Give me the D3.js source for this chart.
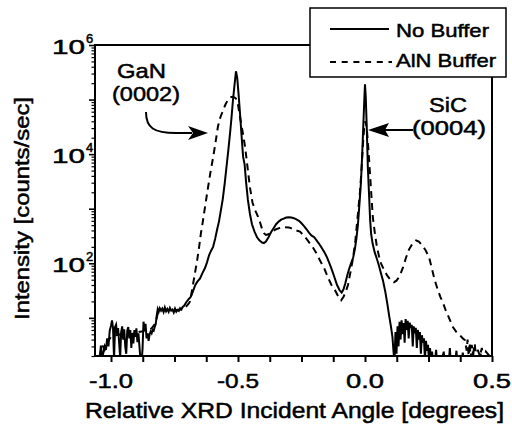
<!DOCTYPE html>
<html><head><meta charset="utf-8">
<script src="https://cdn.jsdelivr.net/npm/d3@7"></script>
<style>body{margin:0;background:#fff}svg{display:block}</style>
</head><body><svg id="c" width="512" height="427"></svg>
<script>
// ---------- data ----------
const seriesNames = ["No Buffer", "AlN Buffer"];
const xTickValues = [-1.0, -0.5, 0.0, 0.5];
const xTickLabels = ["-1.0", "-0.5", "0.0", "0.5"];
const yLabelExponents = [2, 4, 6];

const noBufferX = [-1.045,-1.040,-1.035,-1.030,-1.025,-1.020,-1.015,-1.010,-1.005,-1.000,-0.996,-0.992,-0.988,-0.984,-0.980,-0.976,-0.972,-0.968,-0.964,-0.960,-0.956,-0.952,-0.948,-0.944,-0.940,-0.936,-0.932,-0.928,-0.924,-0.920,-0.916,-0.912,-0.908,-0.904,-0.900,-0.896,-0.892,-0.888,-0.884,-0.880,-0.876,-0.872,-0.868,-0.864,-0.860,-0.856,-0.852,-0.848,-0.844,-0.840,-0.836,-0.832,-0.828,-0.824,-0.820,-0.816,-0.812,-0.808,-0.803,-0.798,-0.793,-0.788,-0.783,-0.778,-0.773,-0.768,-0.763,-0.758,-0.753,-0.748,-0.743,-0.738,-0.733,-0.728,-0.723,-0.718,-0.713,-0.708,-0.703,-0.698,-0.693,-0.688,-0.683,-0.676,-0.668,-0.660,-0.650,-0.640,-0.630,-0.622,-0.614,-0.606,-0.598,-0.590,-0.582,-0.575,-0.568,-0.560,-0.552,-0.545,-0.538,-0.531,-0.525,-0.520,-0.514,-0.508,-0.503,-0.498,-0.492,-0.486,-0.480,-0.474,-0.468,-0.461,-0.453,-0.445,-0.435,-0.425,-0.415,-0.405,-0.398,-0.390,-0.380,-0.370,-0.360,-0.350,-0.340,-0.330,-0.320,-0.310,-0.300,-0.290,-0.280,-0.270,-0.260,-0.250,-0.240,-0.230,-0.220,-0.210,-0.200,-0.190,-0.180,-0.170,-0.160,-0.150,-0.140,-0.130,-0.120,-0.110,-0.100,-0.092,-0.085,-0.078,-0.070,-0.062,-0.055,-0.047,-0.040,-0.034,-0.028,-0.022,-0.016,-0.011,-0.006,-0.002,0.000,0.003,0.007,0.011,0.016,0.020,0.024,0.030,0.038,0.047,0.055,0.063,0.071,0.080,0.088,0.095,0.102,0.108,0.112,0.116,0.120,0.124,0.128,0.132,0.136,0.140,0.144,0.148,0.152,0.156,0.160,0.164,0.168,0.172,0.176,0.180,0.184,0.188,0.192,0.196,0.200,0.204,0.208,0.212,0.216,0.220,0.224,0.228,0.232,0.236,0.240,0.244,0.248,0.252,0.256,0.260,0.264,0.268,0.275,0.280,0.284,0.300,0.310,0.314,0.330,0.334,0.338,0.355,0.360,0.364,0.380,0.385,0.390,0.420,0.425,0.430,0.450,0.455,0.460,0.490];
const noBufferY = [1.5,3.1,1.9,2.3,3.0,2.6,4.2,3.0,5.8,7.2,9.0,6.5,1.8,6.8,7.5,5.0,6.5,3.5,1.9,5.5,7.0,4.0,6.2,3.0,2.2,5.8,6.8,4.2,6.0,2.8,5.2,3.4,6.0,4.5,6.4,3.6,5.2,3.0,1.7,1.5,2.6,8.5,6.0,7.8,4.2,5.2,3.8,5.0,5.6,5.2,6.0,5.8,6.8,7.6,11.0,14.5,13.0,15.0,13.5,14.8,12.8,15.5,13.2,14.5,12.9,15.2,13.6,14.2,12.6,14.8,13.0,14.0,13.4,15.0,14.2,15.8,16.5,18.0,19.5,21.0,22.5,23.5,26,32,40,46,52,66,82,104,140,170,200,280,420,580,900,1500,3000,6000,12000,25000,50000,95000,180000,330000,250000,130000,55000,22000,9000,6500,3000,1450,800,520,380,300,260,240,235,250,300,370,440,520,580,630,660,690,700,690,670,640,600,540,480,420,360,320,300,260,225,190,160,130,100,75,55,40,32,29,33,42,60,80,100,125,180,280,500,1200,3000,10000,40000,120000,190000,110000,30000,6000,1800,650,350,230,160,120,90,65,48,30,18,11,7,4.5,2.5,1.6,5.5,2.2,7.0,3.0,8.5,4.0,9.0,5.0,8.0,3.5,9.5,6.0,8.8,4.2,8.2,6.5,7.5,3.0,7.0,5.2,6.6,2.8,6.0,4.0,5.5,2.2,4.8,3.5,4.2,1.8,3.8,2.5,3.2,1.6,2.8,1.5,2.4,1.5,1.5,2.6,1.5,1.5,2.4,1.5,1.5,2.8,1.5,1.5,2.5,1.5,1.5,2.3,1.5,1.5,2.4,1.5,1.5,2.2,1.5,1.5];

const alnBufferX = [-1.045,-1.035,-1.025,-1.015,-1.000,-0.980,-0.960,-0.940,-0.920,-0.900,-0.880,-0.860,-0.840,-0.825,-0.815,-0.800,-0.780,-0.760,-0.740,-0.720,-0.705,-0.695,-0.689,-0.681,-0.671,-0.661,-0.653,-0.646,-0.638,-0.630,-0.618,-0.608,-0.598,-0.588,-0.579,-0.569,-0.559,-0.549,-0.539,-0.530,-0.522,-0.514,-0.508,-0.500,-0.492,-0.482,-0.472,-0.462,-0.453,-0.443,-0.433,-0.423,-0.413,-0.405,-0.398,-0.390,-0.380,-0.365,-0.350,-0.335,-0.320,-0.300,-0.285,-0.270,-0.256,-0.240,-0.225,-0.205,-0.190,-0.177,-0.160,-0.146,-0.132,-0.118,-0.106,-0.094,-0.085,-0.076,-0.067,-0.057,-0.047,-0.038,-0.028,-0.020,-0.014,-0.008,-0.003,0.002,0.007,0.012,0.016,0.021,0.026,0.031,0.039,0.047,0.055,0.063,0.075,0.087,0.100,0.114,0.124,0.134,0.142,0.150,0.161,0.173,0.187,0.201,0.212,0.224,0.238,0.252,0.262,0.274,0.287,0.297,0.307,0.317,0.327,0.337,0.346,0.360,0.374,0.385,0.394,0.400,0.404,0.408,0.412,0.416,0.420,0.426,0.432,0.438,0.444,0.452,0.460,0.468,0.476,0.490];
const alnBufferY = [2.0,3.2,2.6,3.5,4.5,4.8,5.0,5.2,5.0,5.4,5.6,6.0,6.4,8.0,12.5,13.5,13.8,14.0,14.0,14.5,16,18,20,32,60,112,200,355,600,1070,2450,4800,8700,17000,32000,48000,63000,82000,100000,110000,112000,110000,104000,80000,48000,26000,13500,5500,2450,1300,950,750,560,420,355,330,340,380,420,445,460,455,430,400,380,320,260,195,150,112,80,55,40,32,25,21,24,30,40,70,125,260,800,2000,5000,15000,32000,40000,30000,15000,8000,3500,1500,690,350,200,135,100,75,60,50,45,48,56,68,85,125,178,230,263,250,215,175,130,85,50,32,24,19,14,11,8.5,6.8,5.5,4.8,4.2,3.9,2.5,4.0,2.0,3.5,1.8,3.2,2.2,3.4,1.7,2.6,2.0,2.8,1.7,2.4,2.0];

// ---------- layout ----------
const svg = d3.select("#c");
const P = {left: 95, right: 492, top: 45, bottom: 356};
const x = d3.scaleLinear().domain([-1.063, 0.5]).range([P.left, P.right]);
const y = d3.scaleLog().domain([2, 1e6]).range([P.bottom, P.top]);
const FONT = "'Liberation Sans', Arial, Helvetica, sans-serif";

function txt(s, tx, ty, size, len, anchor, rot) {
  const t = svg.append("text")
    .attr("x", tx).attr("y", ty)
    .attr("font-family", FONT).attr("font-weight", "normal")
    .attr("font-size", size).attr("fill", "#000")
    .attr("stroke", "#000").attr("stroke-width", 0.5)
    .attr("text-anchor", anchor || "start")
    .text(s);
  if (len) t.attr("textLength", len).attr("lengthAdjust", "spacingAndGlyphs");
  if (rot) t.attr("transform", `rotate(${rot},${tx},${ty})`);
  return t;
}

svg.append("defs").append("clipPath").attr("id", "clip")
  .append("rect").attr("x", P.left).attr("y", P.top - 5)
  .attr("width", P.right - P.left).attr("height", P.bottom - P.top + 5);

// curves
const line = d3.line().x(d => x(d[0])).y(d => y(Math.max(d[1], 1.2)));
const g = svg.append("g").attr("clip-path", "url(#clip)");
g.append("path").datum(alnBufferX.map((v, i) => [v, alnBufferY[i]]))
  .attr("d", line).attr("fill", "none").attr("stroke", "#000")
  .attr("stroke-width", 2).attr("stroke-dasharray", "7,5");
g.append("path").datum(noBufferX.map((v, i) => [v, noBufferY[i]]))
  .attr("d", line).attr("fill", "none").attr("stroke", "#000")
  .attr("stroke-width", 2);

// frame
svg.append("rect").attr("x", P.left).attr("y", P.top)
  .attr("width", P.right - P.left).attr("height", P.bottom - P.top)
  .attr("fill", "none").attr("stroke", "#000").attr("stroke-width", 2);

// x axis ticks
const xMinor = d3.range(-1.0, 0.5001, 0.125);
const xAx = svg.append("g").attr("transform", `translate(0,${P.bottom})`)
  .call(d3.axisBottom(x).tickValues(xMinor).tickSize(6).tickFormat(""));
xAx.select(".domain").remove();
xAx.selectAll(".tick line").attr("stroke-width", 2);
const xLens = [44, 42, 38, 38];
xTickValues.forEach((v, i) => txt(xTickLabels[i], x(v), 388, 21, xLens[i], "middle"));

// y axis ticks
const yMajor = [10, 100, 1000, 1e4, 1e5, 1e6];
const yMinor = [];
[1, 10, 100, 1000, 1e4, 1e5].forEach(d => { for (let k = 2; k <= 9; k++) if (d * k >= 2) yMinor.push(d * k); });
const yA1 = svg.append("g").attr("transform", `translate(${P.left},0)`)
  .call(d3.axisLeft(y).tickValues(yMajor).tickSize(6).tickFormat(""));
yA1.select(".domain").remove();
yA1.selectAll(".tick line").attr("stroke-width", 1.6);
const yA2 = svg.append("g").attr("transform", `translate(${P.left},0)`)
  .call(d3.axisLeft(y).tickValues(yMinor).tickSize(3.5).tickFormat(""));
yA2.select(".domain").remove();
yA2.selectAll(".tick line").attr("stroke-width", 1.2);
yLabelExponents.forEach(e => {
  const yy = y(Math.pow(10, e));
  txt("10", 52, yy + 8.5, 21, 33);
  txt(String(e), 86, yy - 2, 13);
});

// axis titles
txt("Relative XRD Incident Angle [degrees]", 85, 418, 22, 419);
txt("Intensity [counts/sec]", 29, 208.5, 20, 223, "middle", -90);

// annotations
txt("GaN", 117, 78, 21, 49);
txt("(0002)", 112, 101, 21, 68);
svg.append("path").attr("d", "M146,112 C146,128 154,133 176,133 L192,133")
  .attr("fill", "none").attr("stroke", "#000").attr("stroke-width", 2);
svg.append("path").attr("d", "M208,133 L188,126 L193,133 L188,140 Z").attr("fill", "#000");

txt("SiC", 429, 112, 21, 38);
txt("(0004)", 412, 135, 21, 74);
svg.append("path").attr("d", "M413,130 L384,130")
  .attr("fill", "none").attr("stroke", "#000").attr("stroke-width", 2);
svg.append("path").attr("d", "M368,130 L389,123 L385,130 L389,137 Z").attr("fill", "#000");

// legend
const lg = svg.append("g");
lg.append("rect").attr("x", 310).attr("y", 8).attr("width", 196).attr("height", 69)
  .attr("fill", "#fff").attr("stroke", "#000").attr("stroke-width", 1.5);
lg.append("line").attr("x1", 330).attr("x2", 389).attr("y1", 29).attr("y2", 29)
  .attr("stroke", "#000").attr("stroke-width", 2);
lg.append("line").attr("x1", 330).attr("x2", 392).attr("y1", 62).attr("y2", 62)
  .attr("stroke", "#000").attr("stroke-width", 2).attr("stroke-dasharray", "6,5.7");
txt(seriesNames[0], 396, 37, 19, 93);
txt(seriesNames[1], 396, 67, 19, 100);
</script></body></html>
